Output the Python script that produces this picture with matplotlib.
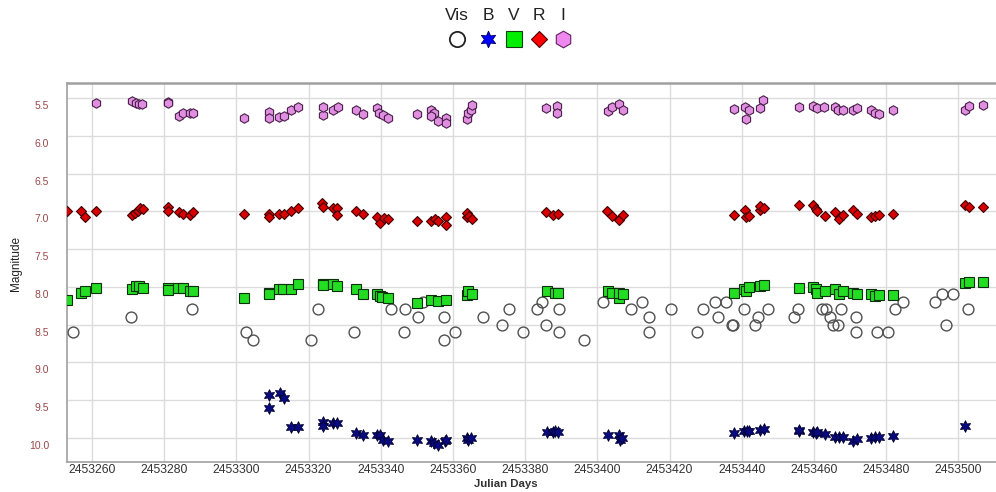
import matplotlib
matplotlib.use("Agg")
import matplotlib.pyplot as plt
import matplotlib.transforms as mtransforms
import numpy as np

plt.rcParams['font.family'] = ['Liberation Sans', 'DejaVu Sans']

# Julian days are stored as offsets from JD0
JD0 = 2453000

# I band
jd_I = [261.1, 271.2, 272.1, 273.1, 274.0, 281.1, 281.1, 284.1, 285.1, 287.1, 288.0,
        302.2, 309.1, 309.1, 311.9, 313.1, 315.1, 317.1, 323.9, 324.1, 326.8, 328.2,
        333.0, 335.1, 338.9, 339.6, 340.7, 342.1, 350.1, 353.9, 354.8, 353.9, 355.9,
        358.1, 358.1, 363.8, 364.2, 364.9, 365.2, 385.9, 388.7, 388.7, 403.0, 404.0,
        406.1, 407.0, 437.9, 440.9, 441.1, 442.0, 444.9, 446.0, 455.9, 459.8, 460.7,
        462.8, 465.8, 466.7, 467.9, 470.7, 471.8, 475.7, 476.9, 477.9, 482.0, 501.9,
        503.0, 506.9]
mag_I = [5.56, 5.54, 5.56, 5.57, 5.58, 5.55, 5.56, 5.73, 5.69, 5.69, 5.69,
         5.76, 5.68, 5.76, 5.75, 5.73, 5.66, 5.61, 5.72, 5.62, 5.66, 5.61,
         5.66, 5.71, 5.63, 5.69, 5.72, 5.76, 5.71, 5.66, 5.70, 5.74, 5.80,
         5.76, 5.83, 5.78, 5.70, 5.65, 5.59, 5.63, 5.60, 5.69, 5.67, 5.61,
         5.58, 5.66, 5.64, 5.62, 5.77, 5.66, 5.63, 5.52, 5.61, 5.60, 5.63,
         5.61, 5.61, 5.66, 5.65, 5.65, 5.63, 5.65, 5.69, 5.71, 5.66, 5.66,
         5.60, 5.59]

# R band
jd_R = [253.2, 257.0, 258.1, 261.1, 271.2, 271.9, 272.7, 273.3, 274.2, 281.0, 281.0,
        284.1, 285.1, 287.1, 288.0, 302.2, 309.1, 309.1, 311.9, 313.1, 315.1, 317.1,
        323.8, 324.1, 326.8, 327.8, 327.9, 333.0, 335.1, 338.9, 339.8, 340.9, 342.1,
        350.1, 353.9, 355.0, 355.9, 358.1, 358.1, 363.8, 364.0, 364.4, 365.2, 385.9,
        387.7, 389.0, 402.7, 404.0, 406.0, 407.0, 437.9, 440.9, 441.1, 442.0, 444.9,
        445.1, 446.2, 455.9, 459.8, 460.6, 460.9, 462.9, 465.8, 466.8, 467.9, 470.7,
        471.8, 475.7, 476.9, 477.9, 482.0, 501.9, 503.0, 506.9]
mag_R = [7.00, 7.00, 7.07, 6.99, 7.05, 7.02, 6.99, 6.96, 6.97, 6.94, 6.99,
         7.01, 7.03, 7.05, 7.01, 7.04, 7.04, 7.07, 7.03, 7.03, 6.99, 6.95,
         6.89, 6.94, 6.96, 6.96, 7.05, 7.00, 7.03, 7.07, 7.16, 7.09, 7.10,
         7.13, 7.13, 7.10, 7.13, 7.08, 7.18, 7.08, 7.02, 7.06, 7.10, 7.01,
         7.05, 7.03, 7.00, 7.06, 7.11, 7.05, 7.05, 6.98, 7.08, 7.06, 6.98,
         6.93, 6.96, 6.92, 6.92, 6.97, 7.00, 7.06, 7.01, 7.10, 7.05, 6.98,
         7.03, 7.08, 7.06, 7.05, 7.03, 6.92, 6.94, 6.94]

# V band
jd_V = [253.2, 257.0, 258.1, 261.1, 271.2, 272.1, 273.1, 274.2, 281.1, 281.1, 283.9,
        285.1, 287.1, 288.0, 302.2, 309.1, 309.1, 311.9, 313.0, 315.1, 317.1, 324.1,
        324.1, 326.8, 328.0, 333.0, 335.1, 338.9, 339.8, 340.3, 342.1, 350.1, 353.9,
        355.9, 358.1, 363.8, 364.2, 365.2, 386.1, 388.2, 389.1, 403.0, 404.0, 406.0,
        406.0, 407.0, 437.9, 440.7, 441.1, 442.0, 444.9, 446.2, 455.9, 459.8, 460.6,
        460.9, 462.9, 465.8, 466.8, 467.9, 470.7, 471.8, 475.7, 476.9, 477.9, 482.0,
        501.9, 503.0, 506.9]
mag_V = [8.17, 8.08, 8.06, 8.02, 8.03, 7.99, 7.99, 8.01, 8.02, 8.04, 8.02,
         8.02, 8.06, 8.06, 8.15, 8.08, 8.10, 8.03, 8.03, 8.03, 7.96, 7.96,
         7.98, 7.96, 7.99, 8.03, 8.09, 8.09, 8.12, 8.14, 8.15, 8.22, 8.17,
         8.19, 8.17, 8.11, 8.05, 8.09, 8.05, 8.08, 8.08, 8.05, 8.08, 8.15,
         8.08, 8.10, 8.08, 8.03, 8.05, 8.00, 7.99, 7.98, 8.01, 8.00, 8.03,
         8.08, 8.05, 8.03, 8.09, 8.06, 8.08, 8.10, 8.10, 8.12, 8.11, 8.11,
         7.95, 7.94, 7.93]

# B band
jd_B = [309.1, 309.1, 312.1, 313.2, 315.1, 317.1, 323.9, 324.1, 326.8, 327.9, 333.0,
        335.1, 338.9, 339.8, 340.7, 342.1, 350.1, 353.9, 354.8, 355.9, 357.8, 358.1,
        363.8, 364.2, 365.0, 386.1, 387.7, 388.3, 389.0, 403.0, 406.0, 406.2, 406.7,
        437.9, 440.7, 441.3, 442.0, 444.9, 446.2, 455.9, 455.9, 459.8, 460.6, 460.9,
        462.9, 465.8, 466.8, 467.9, 470.7, 471.8, 475.7, 476.9, 477.9, 482.0, 501.9]
mag_B = [9.44, 9.61, 9.41, 9.48, 9.86, 9.86, 9.79, 9.84, 9.81, 9.81, 9.94,
         9.97, 9.96, 9.97, 10.03, 10.04, 10.03, 10.05, 10.07, 10.10, 10.05, 10.03,
         10.01, 10.03, 10.00, 9.93, 9.93, 9.91, 9.92, 9.97, 9.97, 10.03, 10.01,
         9.94, 9.91, 9.91, 9.91, 9.90, 9.89, 9.91, 9.90, 9.93, 9.94, 9.92,
         9.95, 9.99, 9.99, 9.99, 10.05, 10.02, 10.00, 9.99, 9.99, 9.98, 9.84]

# visual estimates
jd_Vis = [254.8, 270.8, 287.8, 302.6, 304.7, 320.6, 322.7, 332.6, 342.8, 346.7, 346.5,
          350.4, 351.6, 357.5, 357.6, 360.6, 368.4, 373.5, 375.5, 379.3, 383.4, 384.6,
          385.7, 389.4, 389.4, 396.4, 401.5, 409.3, 412.4, 414.4, 414.4, 420.4, 427.5,
          429.3, 432.6, 433.5, 435.6, 437.4, 437.6, 440.6, 443.7, 444.4, 447.3, 454.5,
          455.5, 462.1, 463.2, 464.4, 465.3, 466.5, 467.5, 471.5, 471.6, 477.5, 480.4,
          482.4, 484.6, 493.5, 495.5, 496.5, 498.4, 502.6]
mag_Vis = [8.6, 8.4, 8.3, 8.6, 8.7, 8.7, 8.3, 8.6, 8.3, 8.3, 8.6,
           8.4, 8.2, 8.4, 8.7, 8.6, 8.4, 8.5, 8.3, 8.6, 8.3, 8.2,
           8.5, 8.3, 8.6, 8.7, 8.2, 8.3, 8.2, 8.4, 8.6, 8.3, 8.6,
           8.3, 8.2, 8.4, 8.2, 8.5, 8.5, 8.3, 8.5, 8.4, 8.3, 8.4,
           8.3, 8.3, 8.3, 8.4, 8.5, 8.5, 8.3, 8.4, 8.6, 8.6, 8.6,
           8.3, 8.2, 8.2, 8.1, 8.5, 8.1, 8.3]

band_names = ["Vis", "B", "V", "R", "I"]
x_ticks = list(range(2453260, 2453501, 20))
y_ticks = [5.5, 6.0, 6.5, 7.0, 7.5, 8.0, 8.5, 9.0, 9.5, 10.0]

fig = plt.figure(figsize=(9.96, 4.92), dpi=100)
ax = fig.add_axes([0.0673, 0.0616, 0.9327, 0.7691])

def jd(arr):
    return JD0 + np.array(arr)

ax.plot(jd(jd_Vis), mag_Vis, 'o', ms=7.8, mfc='none', mec='#505050', mew=1.0, zorder=3)
ax.plot(jd(jd_B), mag_B, marker=(6, 1, 0), ls='none', ms=8.5, mfc='#0a0a80',
        mec='#000030', mew=0.6, zorder=4)
ax.plot(jd(jd_V), mag_V, 's', ms=7, mfc='#22dd22', mec='#0c300c', mew=0.8, zorder=4)
ax.plot(jd(jd_R), mag_R, 'D', ms=5.5, mfc='#d80000', mec='#400000', mew=0.8, zorder=4)
ax.plot(jd(jd_I), mag_I, 'h', ms=6.8, mfc='#e08ee0', mec='#4a1f4a', mew=0.8, zorder=4)

ax.set_xlim(2453253.1, 2453510.4)
ax.set_ylim(10.32, 5.30)
ax.set_xticks(x_ticks)
ax.set_xticklabels([str(t) for t in x_ticks])
ax.set_yticks(y_ticks)
ax.set_yticklabels(["%.1f" % t for t in y_ticks])
ax.grid(True, color='#dcdcdc', lw=1.0)
ax.set_axisbelow(True)

ax.tick_params(axis='x', length=0, pad=2, labelsize=8.8, labelcolor='#333333')
ax.tick_params(axis='y', length=0, pad=13, labelsize=7.5, labelcolor='#9a4848')

# y labels sit a little below their grid lines
offset = mtransforms.ScaledTranslation(0, -7 / 100, fig.dpi_scale_trans)
for lab in ax.get_yticklabels():
    lab.set_transform(lab.get_transform() + offset)

for side in ['top', 'left', 'bottom']:
    ax.spines[side].set_color('#a0a0a0')
ax.spines['top'].set_linewidth(1.8)
ax.spines['left'].set_linewidth(1.2)
ax.spines['bottom'].set_linewidth(1.2)
ax.spines['right'].set_visible(False)

ax.set_xlabel("Julian Days", fontsize=8.2, fontweight='bold', color='#333333')
ax.xaxis.set_label_coords(0.4726, -0.0465)
ax.set_ylabel("Magnitude", fontsize=8.5, color='#222222')
ax.yaxis.set_label_coords(-0.048, 0.525)

# legend: names above their marker keys
leg = fig.add_axes([0, 0, 1, 1], zorder=5)
leg.set_xlim(0, 996)
leg.set_ylim(492, 0)
leg.axis('off')
leg_x = [457, 488, 514, 539, 563]
leg_style = [
    dict(marker='o', ms=11, mfc='white', mec='#222222', mew=1.3),
    dict(marker=(6, 1, 0), ms=12, mfc='#0000ff', mec='#000060', mew=0.6),
    dict(marker='s', ms=11, mfc='#00ee00', mec='#104010', mew=0.8),
    dict(marker='D', ms=8.5, mfc='#ff0000', mec='#500000', mew=0.8),
    dict(marker='h', ms=12, mfc='#ee88ee', mec='#602060', mew=0.8),
]
for name, xx, st in zip(band_names, leg_x, leg_style):
    leg.text(xx, 16, name, ha='center', va='center', fontsize=12.5, color='#222222')
    leg.plot([xx], [39], ls='none', **st)

fig.savefig("out.png", dpi=100)
